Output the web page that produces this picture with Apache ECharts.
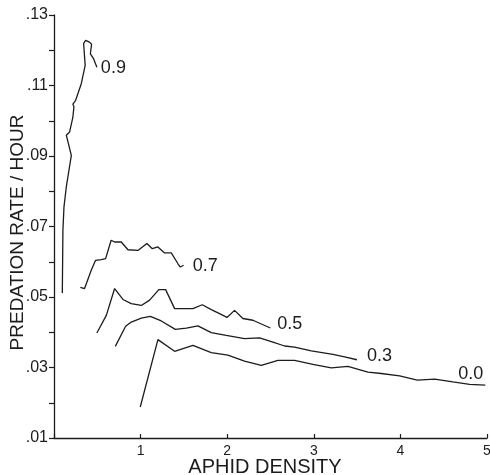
<!DOCTYPE html>
<html>
<head>
<meta charset="utf-8">
<script src="https://cdn.jsdelivr.net/npm/echarts@6/dist/echarts.min.js"></script>
<style>html,body{margin:0;padding:0;background:#fff}#c{width:490px;height:475px}</style>
</head>
<body>
<div id="c"></div>
<script>
// Series data: [aphid density, predation rate / hour]
const s09 = [[0.096,0.0511],[0.103,0.0689],[0.115,0.0755],[0.142,0.0812],[0.20,0.0902],[0.142,0.0959],[0.18,0.0968],[0.218,0.101],[0.23,0.104],[0.218,0.1047],[0.25,0.1058],[0.315,0.1105],[0.36,0.1157],[0.342,0.1219],[0.365,0.1228],[0.41,0.1223],[0.434,0.1217],[0.42,0.119],[0.457,0.1176],[0.495,0.1152]];
const s07 = [[0.304,0.0527],[0.353,0.0524],[0.43,0.0576],[0.48,0.0604],[0.546,0.0606],[0.596,0.0609],[0.66,0.0661],[0.70,0.0656],[0.777,0.0656],[0.854,0.0634],[0.969,0.0632],[1.073,0.0652],[1.135,0.0637],[1.20,0.0642],[1.277,0.0625],[1.354,0.0625],[1.43,0.0595],[1.458,0.0585],[1.497,0.059]];
const s05 = [[0.495,0.0398],[0.604,0.0448],[0.70,0.0524],[0.796,0.0493],[0.892,0.0481],[1.008,0.0476],[1.104,0.0491],[1.211,0.0521],[1.289,0.0521],[1.393,0.0467],[1.52,0.0467],[1.604,0.0467],[1.712,0.0478],[1.816,0.0464],[1.912,0.0453],[1.997,0.0442],[2.085,0.0462],[2.181,0.0439],[2.297,0.0434],[2.498,0.0412]];
const s03 = [[0.708,0.036],[0.827,0.0417],[0.892,0.0429],[1.008,0.044],[1.112,0.0445],[1.239,0.0432],[1.401,0.0408],[1.528,0.0412],[1.662,0.0418],[1.816,0.0399],[1.989,0.0391],[2.2,0.0382],[2.374,0.0384],[2.528,0.0372],[2.663,0.0361],[2.778,0.0358],[2.971,0.0347],[3.221,0.0337],[3.356,0.033],[3.498,0.0322]];
const s00 = [[0.996,0.0188],[1.2,0.0379],[1.393,0.0346],[1.604,0.0363],[1.816,0.0342],[2.008,0.0335],[2.2,0.0318],[2.394,0.0306],[2.586,0.032],[2.778,0.032],[2.99,0.0309],[3.202,0.0299],[3.394,0.0303],[3.625,0.0287],[3.779,0.0283],[3.991,0.0276],[4.195,0.0264],[4.395,0.0267],[4.606,0.0259],[4.799,0.0252],[4.98,0.025]];
const seriesNames = ['0.9','0.7','0.5','0.3','0.0'];
const seriesData = [s09, s07, s05, s03, s00];
const labelOffsets = [[4,1],[9,1],[7,-4],[10,-4],[-27,-11]];
const xTicks = [0,1,2,3,4,5];
const yTicks = [0.01,0.02,0.03,0.04,0.05,0.06,0.07,0.08,0.09,0.10,0.11,0.12,0.13];

const FONT = 'Liberation Sans, Arial, sans-serif';
const ink = '#1c1c1c';
const chart = echarts.init(document.getElementById('c'), null, {renderer:'canvas'});
chart.setOption({
  animation: false,
  backgroundColor: '#fff',
  grid: {left: 54, right: 3, top: 15, bottom: 37, containLabel: false, outerBoundsMode: 'none'},
  xAxis: {
    type: 'value', min: xTicks[0], max: xTicks[xTicks.length-1], interval: 1,
    name: 'APHID DENSITY', nameLocation: 'middle', nameGap: 19, nameMoveOverlap: false,
    nameTextStyle: {fontFamily: FONT, fontSize: 20, color: ink, padding: [0, 11, 0, 0]},
    axisLine: {show: true, lineStyle: {color: ink, width: 1.3}},
    axisTick: {show: true, inside: true, length: 4, lineStyle: {color: ink, width: 1.2}},
    axisLabel: {fontFamily: FONT, fontSize: 14, color: ink, margin: 6,
      formatter: v => v === 0 ? '' : String(v)},
    splitLine: {show: false}
  },
  yAxis: {
    type: 'value', min: yTicks[0], max: yTicks[yTicks.length-1], interval: 0.01,
    name: 'PREDATION RATE / HOUR', nameLocation: 'middle', nameGap: 27, nameRotate: 90, nameMoveOverlap: false,
    nameTextStyle: {fontFamily: FONT, fontSize: 19, color: ink, padding: [0, 12, 0, 0]},
    axisLine: {show: true, lineStyle: {color: ink, width: 1.3}},
    axisTick: {show: true, inside: false, length: 5, lineStyle: {color: ink, width: 1.2}},
    axisLabel: {fontFamily: FONT, fontSize: 16, color: ink, margin: 6,
      formatter: v => (Math.round(v*100) % 2 === 1) ? v.toFixed(2).replace(/^0/, '') : ''},
    splitLine: {show: false}
  },
  series: seriesData.map((d, i) => ({
    type: 'line', name: seriesNames[i], data: d,
    showSymbol: false, symbol: 'none', smooth: false,
    lineStyle: {color: ink, width: 1.3},
    endLabel: {show: true, formatter: seriesNames[i], distance: 0, offset: labelOffsets[i],
      fontFamily: FONT, fontSize: 18, color: ink}
  }))
});
</script>
</body>
</html>
